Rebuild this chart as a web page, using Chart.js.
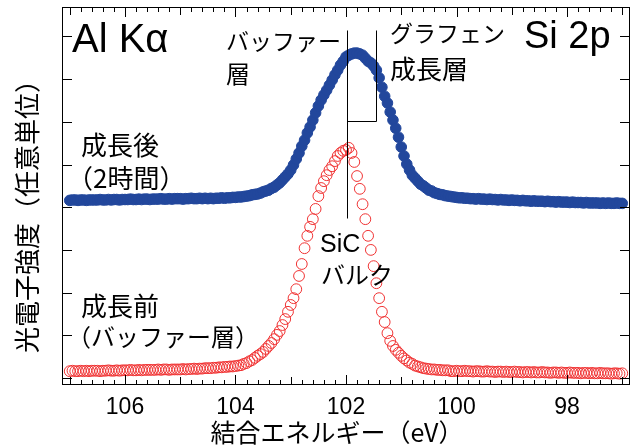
<!DOCTYPE html>
<html>
<head>
<meta charset="utf-8">
<script src="https://cdn.jsdelivr.net/npm/chart.js@4.4.1/dist/chart.umd.min.js"></script>
<style>
  html, body { margin: 0; padding: 0; background: #fff; }
  canvas { display: block; }
</style>
</head>
<body>
<canvas id="xpsChart" width="638" height="448"></canvas>
<script>
// binding energy grid (eV), high -> low
const energies = [
  107,106.95,106.9,106.85,106.8,106.75,106.7,106.65,106.6,106.55,
  106.5,106.45,106.4,106.35,106.3,106.25,106.2,106.15,106.1,106.05,
  106,105.95,105.9,105.85,105.8,105.75,105.7,105.65,105.6,105.55,
  105.5,105.45,105.4,105.35,105.3,105.25,105.2,105.15,105.1,105.05,
  105,104.95,104.9,104.85,104.8,104.75,104.7,104.65,104.6,104.55,
  104.5,104.45,104.4,104.35,104.3,104.25,104.2,104.15,104.1,104.05,
  104,103.95,103.9,103.85,103.8,103.75,103.7,103.65,103.6,103.55,
  103.5,103.45,103.4,103.35,103.3,103.25,103.2,103.15,103.1,103.05,
  103,102.95,102.9,102.85,102.8,102.75,102.7,102.65,102.6,102.55,
  102.5,102.45,102.4,102.35,102.3,102.25,102.2,102.15,102.1,102.05,
  102,101.95,101.9,101.85,101.8,101.75,101.7,101.65,101.6,101.55,
  101.5,101.45,101.4,101.35,101.3,101.25,101.2,101.15,101.1,101.05,
  101,100.95,100.9,100.85,100.8,100.75,100.7,100.65,100.6,100.55,
  100.5,100.45,100.4,100.35,100.3,100.25,100.2,100.15,100.1,100.05,
  100,99.95,99.9,99.85,99.8,99.75,99.7,99.65,99.6,99.55,
  99.5,99.45,99.4,99.35,99.3,99.25,99.2,99.15,99.1,99.05,
  99,98.95,98.9,98.85,98.8,98.75,98.7,98.65,98.6,98.55,
  98.5,98.45,98.4,98.35,98.3,98.25,98.2,98.15,98.1,98.05,
  98,97.95,97.9,97.85,97.8,97.75,97.7,97.65,97.6,97.55,
  97.5,97.45,97.4,97.35,97.3,97.25,97.2,97.15,97.1,97.05,
  97
];

// after growth (2 h) - filled blue
const afterGrowth = [
  4.16,4.17,4.17,4.16,4.17,4.17,4.16,4.17,4.17,4.17,
  4.17,4.18,4.17,4.17,4.18,4.17,4.18,4.18,4.17,4.18,
  4.18,4.18,4.19,4.18,4.18,4.19,4.18,4.19,4.19,4.18,
  4.19,4.19,4.19,4.20,4.19,4.19,4.20,4.19,4.20,4.20,
  4.20,4.19,4.20,4.20,4.21,4.20,4.20,4.21,4.20,4.21,
  4.20,4.21,4.20,4.21,4.21,4.22,4.21,4.22,4.22,4.23,
  4.23,4.24,4.24,4.25,4.26,4.27,4.29,4.30,4.31,4.33,
  4.36,4.38,4.40,4.44,4.47,4.52,4.57,4.64,4.71,4.78,
  4.87,4.99,5.13,5.27,5.43,5.57,5.74,5.88,6.04,6.21,
  6.37,6.51,6.63,6.74,6.86,6.98,7.10,7.21,7.33,7.42,
  7.52,7.56,7.59,7.61,7.61,7.59,7.56,7.49,7.42,7.38,
  7.31,7.21,7.03,6.81,6.60,6.44,6.23,6.04,5.85,5.64,
  5.41,5.20,5.01,4.87,4.75,4.68,4.61,4.54,4.50,4.45,
  4.40,4.38,4.34,4.32,4.30,4.29,4.27,4.26,4.25,4.24,
  4.23,4.22,4.22,4.21,4.21,4.20,4.20,4.19,4.20,4.19,
  4.19,4.18,4.19,4.18,4.18,4.17,4.18,4.17,4.17,4.16,
  4.17,4.16,4.16,4.15,4.16,4.15,4.15,4.14,4.15,4.14,
  4.14,4.14,4.13,4.14,4.13,4.13,4.12,4.13,4.12,4.12,
  4.12,4.11,4.12,4.11,4.11,4.11,4.10,4.11,4.10,4.10,
  4.10,4.10,4.09,4.10,4.09,4.10,4.09,4.09,4.10,4.09,
  4.09
];

// before growth (buffer layer) - open red
const beforeGrowth = [
  0.16,0.17,0.16,0.16,0.17,0.16,0.17,0.16,0.17,0.17,
  0.17,0.16,0.17,0.17,0.18,0.17,0.17,0.18,0.17,0.18,
  0.18,0.18,0.19,0.18,0.18,0.19,0.18,0.19,0.19,0.19,
  0.19,0.19,0.20,0.19,0.20,0.20,0.19,0.20,0.20,0.20,
  0.20,0.21,0.20,0.21,0.21,0.22,0.21,0.22,0.22,0.23,
  0.23,0.23,0.24,0.24,0.25,0.25,0.26,0.26,0.27,0.27,
  0.28,0.29,0.30,0.33,0.35,0.39,0.42,0.47,0.52,0.56,
  0.61,0.68,0.75,0.82,0.91,1.01,1.10,1.24,1.38,1.55,
  1.71,1.87,2.08,2.39,2.67,3.04,3.33,3.54,3.72,3.96,
  4.26,4.45,4.61,4.75,4.87,4.96,5.08,5.20,5.27,5.32,
  5.34,5.39,5.27,5.06,4.73,4.43,4.07,3.72,3.33,3.00,
  2.62,2.22,1.87,1.55,1.31,1.05,0.87,0.75,0.66,0.59,
  0.52,0.46,0.41,0.36,0.33,0.29,0.27,0.25,0.23,0.22,
  0.21,0.20,0.20,0.19,0.19,0.18,0.18,0.18,0.16,0.16,
  0.17,0.16,0.16,0.17,0.16,0.16,0.15,0.16,0.16,0.15,
  0.15,0.16,0.15,0.15,0.14,0.15,0.15,0.14,0.15,0.14,
  0.14,0.15,0.14,0.14,0.13,0.14,0.14,0.13,0.14,0.13,
  0.13,0.14,0.13,0.13,0.12,0.13,0.13,0.12,0.13,0.12,
  0.12,0.13,0.12,0.12,0.12,0.11,0.12,0.12,0.11,0.12,
  0.11,0.11,0.12,0.11,0.11,0.11,0.10,0.11,0.11,0.10,
  0.11
];

const xTickLabels = [106, 104, 102, 100, 98];

// bracket marking the peaks: [eV, intensity] pairs
const bufferLine = [[101.98, 8.15], [101.98, 3.75]];
const grapheneLine = [[101.46, 8.15], [101.46, 6.02], [101.98, 6.02]];

const BLUE = "#22479c";
const RED = "#f03232";
const JP = '"Noto Sans CJK JP", sans-serif';
const LAT = '"Liberation Sans", Arial, sans-serif';

// free text on the plot (pixel positions)
const notes = [
  { t: "Al K\u03b1", x: 72, y: 52, font: "40px " + LAT, base: "alphabetic" },
  { t: "Si 2p", x: 524, y: 48, font: "38px " + LAT, base: "alphabetic" },
  { t: "バッファー", x: 226, y: 41, font: "23px " + JP },
  { t: "層", x: 226, y: 74, font: "24px " + JP },
  { t: "グラフェン", x: 390, y: 33, font: "23px " + JP },
  { t: "成長層", x: 390, y: 69, font: "26px " + JP },
  { t: "成長後", x: 81, y: 145, font: "26px " + JP },
  { t: "（2時間）", x: 67, y: 178, font: "26px " + JP },
  { t: "SiC", x: 320, y: 252, font: "25px " + LAT, base: "alphabetic" },
  { t: "バルク", x: 321, y: 275, font: "24px " + JP },
  { t: "成長前", x: 81, y: 306, font: "26px " + JP },
  { t: "（バッファー層）", x: 67, y: 337, font: "24px " + JP }
];

const toPoints = (ys) => energies.map((e, i) => ({ x: e, y: ys[i] }));

const framePlugin = {
  id: "frameAndNotes",
  afterDatasetsDraw(chart) {
    const { ctx, chartArea: a, scales } = chart;
    const x = scales.x, y = scales.y;
    ctx.save();
    ctx.strokeStyle = "#000";
    ctx.lineWidth = 1;
    ctx.strokeRect(a.left + 0.5, a.top + 0.5, a.right - a.left - 1, a.bottom - a.top - 1);

    // inward ticks on all four sides
    ctx.beginPath();
    x.ticks.forEach(t => {
      const k = Math.round(t.value * 5);
      const len = k % 10 === 0 ? 10 : (k % 5 === 0 ? 8 : 5);
      const px = Math.round(x.getPixelForValue(t.value)) + 0.5;
      ctx.moveTo(px, a.bottom); ctx.lineTo(px, a.bottom - len);
      ctx.moveTo(px, a.top); ctx.lineTo(px, a.top + len);
    });
    y.ticks.forEach(t => {
      const py = Math.round(y.getPixelForValue(t.value)) + 0.5;
      ctx.moveTo(a.left, py); ctx.lineTo(a.left + 10, py);
      ctx.moveTo(a.right, py); ctx.lineTo(a.right - 10, py);
    });
    ctx.stroke();

    // peak bracket
    [bufferLine, grapheneLine].forEach(line => {
      ctx.beginPath();
      line.forEach(([e, v], i) => {
        const px = Math.round(x.getPixelForValue(e)) + 0.5;
        const py = Math.round(y.getPixelForValue(v)) + 0.5;
        if (i === 0) ctx.moveTo(px, py); else ctx.lineTo(px, py);
      });
      ctx.stroke();
    });

    ctx.fillStyle = "#000";
    ctx.textAlign = "left";
    notes.forEach(n => {
      ctx.font = n.font;
      ctx.textBaseline = n.base || "middle";
      ctx.fillText(n.t, n.x, n.y);
    });

    // axis titles
    ctx.textAlign = "center";
    ctx.textBaseline = "middle";
    ctx.font = "25px " + JP;
    ctx.fillText("結合エネルギー（eV）", 337, 432);
    ctx.save();
    ctx.translate(27, 210);
    ctx.rotate(-Math.PI / 2);
    ctx.font = "26px " + JP;
    ctx.fillText("光電子強度（任意単位）", 0, 0);
    ctx.restore();
    ctx.restore();
  }
};

new Chart(document.getElementById("xpsChart"), {
  type: "scatter",
  data: {
    datasets: [
      {
        label: "成長後",
        data: toPoints(afterGrowth),
        pointRadius: 5.3,
        pointBackgroundColor: BLUE,
        pointBorderColor: BLUE,
        pointBorderWidth: 1
      },
      {
        label: "成長前",
        data: toPoints(beforeGrowth),
        pointRadius: 5.4,
        pointBackgroundColor: "rgba(0,0,0,0)",
        pointBorderColor: RED,
        pointBorderWidth: 1
      }
    ]
  },
  options: {
    responsive: false,
    animation: false,
    devicePixelRatio: 1,
    layout: { padding: { top: 7, right: 8, left: 0, bottom: 0 } },
    plugins: { legend: { display: false }, tooltip: { enabled: false } },
    scales: {
      x: {
        type: "linear",
        reverse: true,
        min: 96.86,
        max: 107.14,
        grid: { display: false, drawTicks: false },
        border: { display: false },
        ticks: {
          stepSize: 0.2,
          autoSkip: false,
          includeBounds: false,
          maxRotation: 0,
          padding: 9,
          color: "#000",
          font: { family: LAT, size: 23 },
          callback: (v) => {
            const r = Math.round(v);
            return Math.abs(v - r) < 1e-6 && xTickLabels.includes(r) ? String(r) : "";
          }
        },
        afterFit: (s) => { s.height = 63; }
      },
      y: {
        type: "linear",
        min: -0.164,
        max: 8.689,
        grid: { display: false, drawTicks: false },
        border: { display: false },
        ticks: { display: false, stepSize: 1, includeBounds: false },
        afterFit: (s) => { s.width = 62; }
      }
    }
  },
  plugins: [framePlugin]
});
</script>
</body>
</html>
